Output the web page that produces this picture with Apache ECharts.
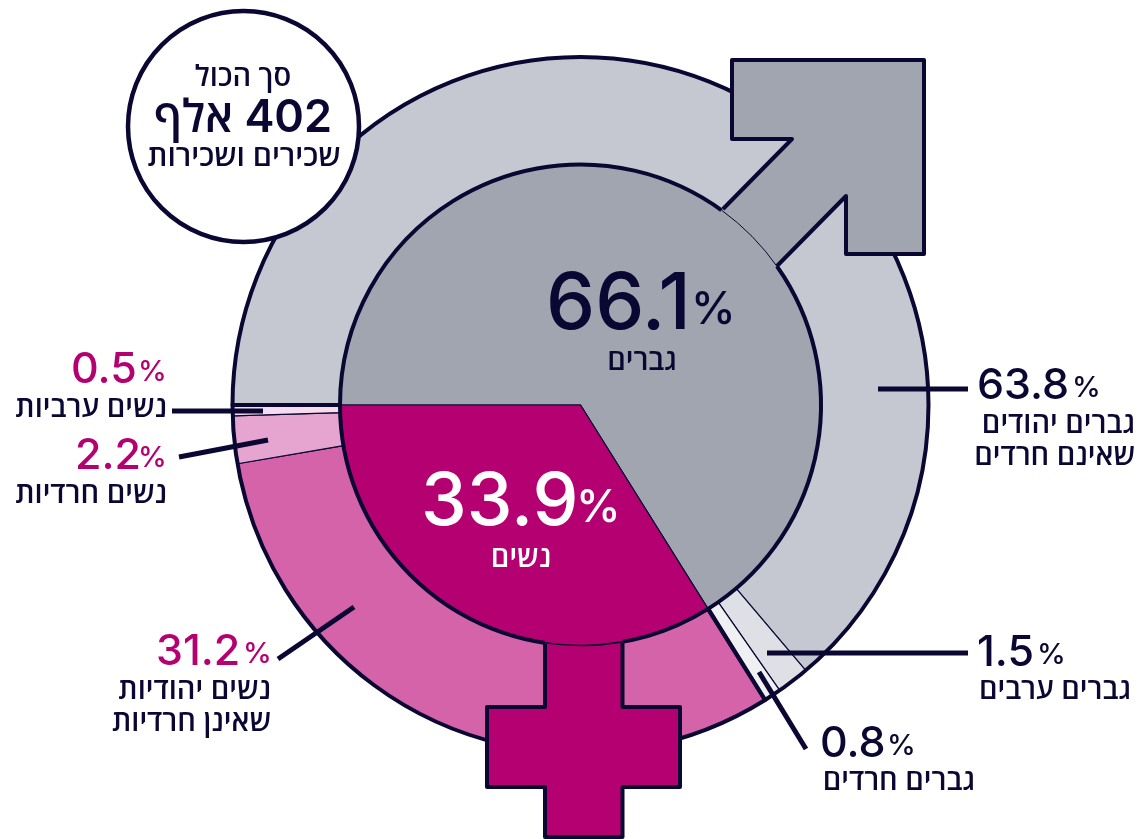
<!DOCTYPE html>
<html dir="rtl" lang="he">
<head>
<meta charset="utf-8">
<style>html,body{margin:0;padding:0;background:#fff}#c{width:1147px;height:839px}</style>
<script src="https://cdn.jsdelivr.net/npm/echarts@6/dist/echarts.min.js"></script>
</head>
<body>
<div id="c"></div>
<script>
const genderNames = ['גברים', 'נשים'];
const genderValues = [66.1, 33.9];
const groupNames = ['גברים יהודים שאינם חרדים', 'גברים ערבים', 'גברים חרדים', 'נשים יהודיות שאינן חרדיות', 'נשים חרדיות', 'נשים ערביות'];
const groupValues = [63.8, 1.5, 0.8, 31.2, 2.2, 0.5];
const totalLines = ['סך הכול', '402 אלף', 'שכירים ושכירות'];

const NAVY = '#0a0733', PINK = '#b50071', GREY = '#a1a5b0';
const genderColors = [GREY, PINK];
const groupColors = ['#c5c8d1', '#dfe0e5', '#eff0f2', '#d463aa', '#e6a5d0', '#f6dcee'];
const CX = 580.5, CY = 405, R1 = 240.5, R2 = 348;
const NUM = 'Inter, "Open Sans", sans-serif', HEB = '"Open Sans", "Liberation Sans", sans-serif';
const HS = 29;

const pie = (extra) => Object.assign({
  type: 'pie', center: [CX, CY], startAngle: 180, clockwise: true, silent: true,
  animation: false, label: {show: false}, labelLine: {show: false}, emphasis: {disabled: true}
}, extra);

const txt = (s, x, y, size, color, align, weight, font) => ({
  type: 'text', z: 30, silent: true,
  style: {text: s, x, y, font: `${weight} ${size}px ${font}`, fill: color, align, verticalAlign: 'middle'}
});
const line = (x1, y1, x2, y2) => ({
  type: 'line', z: 25, silent: true,
  shape: {x1, y1, x2, y2}, style: {stroke: NAVY, lineWidth: 5}
});
const pct = (v) => v.toFixed(1);

function valueLabel(v, numX, numY, pctX, color, lines, textX, textAlign) {
  const out = [
    txt(pct(v), numX, numY, 43, color, 'left', 550, NUM),
    txt('%', pctX, numY + 2, 29, color, 'left', 550, NUM)
  ];
  lines.forEach(l => out.push(txt(l[0], textX, l[1] + 2, HS, NAVY, textAlign, 600, HEB)));
  return out;
}

const graphics = [
  {type: 'polygon', z: 10, silent: true, shape: {points: [[716, 216], [792, 139], [732, 139], [732, 60], [924, 60], [924, 254], [846, 254], [846, 196], [770, 273]]}, style: {fill: GREY}},
  {type: 'polyline', z: 11, silent: true, shape: {points: [[723, 209], [792, 139], [732, 139], [732, 60], [924, 60], [924, 254], [846, 254], [846, 196], [777, 266]]}, style: {stroke: NAVY, lineWidth: 4, fill: 'none', lineJoin: 'round'}},
  {type: 'arc', z: 12, silent: true, shape: {cx: CX, cy: CY, r: R1, startAngle: -54 * Math.PI / 180, endAngle: -35 * Math.PI / 180, clockwise: true}, style: {stroke: NAVY, lineWidth: 1, fill: 'none'}},
  {type: 'polygon', z: 10, silent: true, shape: {points: [[545, 635], [622.5, 635], [622.5, 707], [680, 707], [680, 787], [622.5, 787], [622.5, 837], [545, 837], [545, 787], [487, 787], [487, 707], [545, 707]]}, style: {fill: PINK}},
  {type: 'polyline', z: 11, silent: true, shape: {points: [[545, 644], [545, 707], [487, 707], [487, 787], [545, 787], [545, 837], [622.5, 837], [622.5, 787], [680, 787], [680, 707], [622.5, 707], [622.5, 643]]}, style: {stroke: NAVY, lineWidth: 4, fill: 'none', lineJoin: 'round'}},
  {type: 'arc', z: 12, silent: true, shape: {cx: CX, cy: CY, r: R1, startAngle: 80 * Math.PI / 180, endAngle: 99 * Math.PI / 180, clockwise: true}, style: {stroke: NAVY, lineWidth: 1.6, fill: 'none'}},
  {type: 'circle', z: 20, silent: true, shape: {cx: 243.5, cy: 126.5, r: 115.5}, style: {fill: '#fff', stroke: NAVY, lineWidth: 4.5}},
  txt(totalLines[0], 243, 78, HS, NAVY, 'center', 600, HEB),
  txt(totalLines[1], 243, 118, 45, NAVY, 'center', 600, NUM),
  txt(totalLines[2], 244, 157, 30, NAVY, 'center', 600, HEB),
  line(878, 389, 968, 389), line(767, 653, 968, 653), line(759, 672, 806, 749),
  line(278, 659, 354, 607), line(179, 457, 268, 440), line(172, 411, 263, 411),
  ...valueLabel(groupValues[0], 977, 386, 1072, NAVY, [['גברים יהודים', 423], ['שאינם חרדים', 455]], 1135, 'right'),
  ...valueLabel(groupValues[1], 977, 653, 1037, NAVY, [['גברים ערבים', 689]], 1131, 'right'),
  ...valueLabel(groupValues[2], 820, 744, 887, NAVY, [['גברים חרדים', 780]], 975, 'right'),
  ...valueLabel(groupValues[3], 156, 652, 243, PINK, [['נשים יהודיות', 689], ['שאינן חרדיות', 721]], 271, 'right'),
  ...valueLabel(groupValues[5], 71, 370, 138, PINK, [['נשים ערביות', 407]], 167, 'right'),
  ...valueLabel(groupValues[4], 75, 456, 138, PINK, [['נשים חרדיות', 493]], 167, 'right'),
  txt(pct(genderValues[0]), 546, 306, 78, NAVY, 'left', 550, NUM),
  txt('%', 691, 310, 45, NAVY, 'left', 550, NUM),
  txt(genderNames[0], 642, 362, HS, NAVY, 'center', 600, HEB),
  txt(pct(genderValues[1]), 421, 503, 73, '#fff', 'left', 550, NUM),
  txt('%', 576, 508, 45, '#fff', 'left', 550, NUM),
  txt(genderNames[1], 521, 559, HS, '#fff', 'center', 600, HEB)
];

const chart = echarts.init(document.getElementById('c'), null, {renderer: 'canvas'});
chart.setOption({
  animation: false,
  series: [
    pie({radius: [R1, R2], z: 2,
      data: groupNames.map((n, i) => ({name: n, value: groupValues[i], itemStyle: {color: groupColors[i], borderColor: NAVY, borderWidth: 1.2}}))}),
    pie({radius: [0, R1], z: 3,
      data: genderNames.map((n, i) => ({name: n, value: genderValues[i], itemStyle: {color: genderColors[i], borderColor: NAVY, borderWidth: 1.2}}))}),
    pie({radius: [R1, R2], z: 4,
      data: genderNames.map((n, i) => ({name: n, value: genderValues[i], itemStyle: {color: 'rgba(0,0,0,0)', borderColor: NAVY, borderWidth: 4}}))})
  ],
  graphic: {elements: graphics}
});
</script>
</body>
</html>
